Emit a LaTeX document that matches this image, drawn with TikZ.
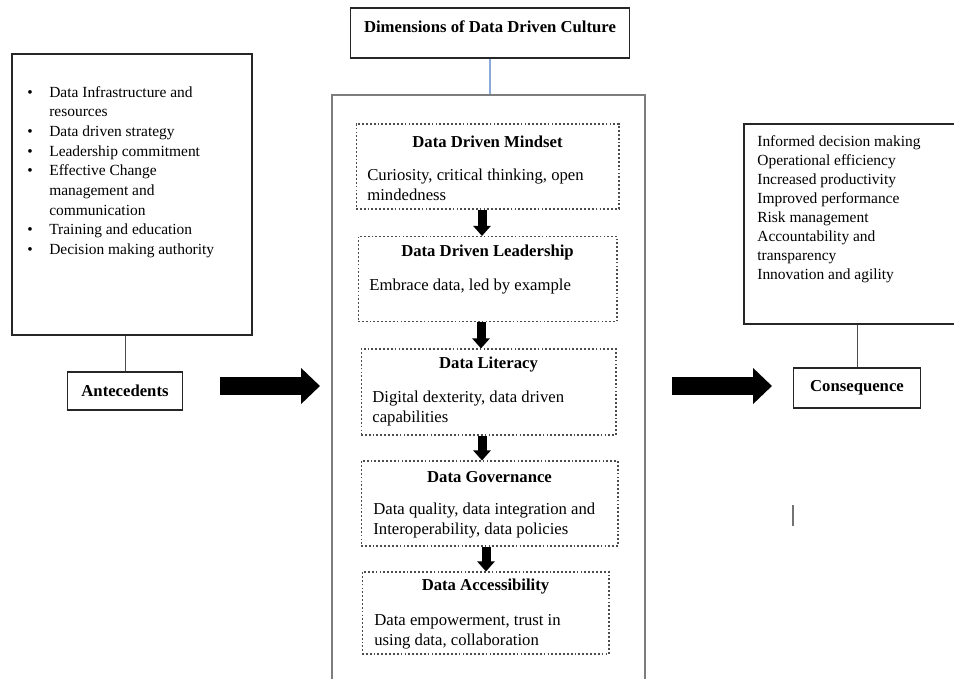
\documentclass[tikz,border=0pt]{standalone}
\usepackage{fontspec}
\setmainfont{Liberation Serif}
\usetikzlibrary{arrows.meta}
\definecolor{framegray}{RGB}{125,125,125}
\definecolor{linkblue}{RGB}{140,170,215}
\newcommand{\bul}{\makebox[12.5pt][l]{\textbullet}}
\newcommand{\hang}{\hspace*{12.5pt}}

\tikzset{
  plainbox/.style={draw=black!85, line width=0.8pt, inner sep=0pt},
  dotbox/.style={draw=black!70, dash pattern=on 1pt off 1.2pt, line width=0.6pt, inner sep=0pt},
  blockarrow/.style={line width=0.36cm, -{Triangle[length=0.38cm,width=0.7cm]}},
  downarrow/.style={line width=0.18cm, -{Triangle[length=0.2cm,width=0.34cm]}},
  sidetext/.style={font=\fontsize{8.8}{11.2}\selectfont, align=left, inner sep=0pt, anchor=north west},
  bodytext/.style={font=\fontsize{9.5}{11.5}\selectfont, align=left, inner sep=0pt, anchor=north west},
  titletext/.style={font=\fontsize{9.5}{11.5}\selectfont\bfseries, inner sep=0pt},
}

\begin{document}
\begin{tikzpicture}[x=0.02cm, y=-0.02cm]
  \useasboundingbox (0,0) rectangle (954,679);
  \clip (0,0) rectangle (954,679);
  % Antecedents side
  \node[plainbox, minimum width=4.8cm, minimum height=5.62cm] (lbox) at (132,194.5) {};
  \node[sidetext] (llist) at (27,83) {\strut\bul Data Infrastructure and\\
    \hang resources\\
    \bul Data driven strategy\\
    \bul Leadership commitment\\
    \bul Effective Change\\
    \hang management and\\
    \hang communication\\
    \bul Training and education\\
    \bul Decision making authority};
  \node[plainbox, minimum width=2.3cm, minimum height=0.76cm, titletext] (ante) at (125,391) {Antecedents};
  \draw[black!70, line width=0.5pt] (ante.north) -- (ante.north |- lbox.south);
  % Dimensions in the middle
  \node[plainbox, minimum width=5.58cm, minimum height=1.0cm] (dim) at (490,33) {};
  \node[titletext] (dimtitle) at (490,27) {Dimensions of Data Driven Culture};
  \node[draw=framegray, line width=1pt, minimum width=6.26cm, minimum height=12cm] (main) at (488.5,395) {};
  \draw[linkblue, line width=0.6pt] (dim.south) -- (dim.south |- main.north);
  \node[dotbox, minimum width=5.26cm, minimum height=1.7cm] (mind) at (487.5,166.5) {};
  \node[titletext] (mindtitle) at (487.5,142) {Data Driven Mindset};
  \node[bodytext] (mindbody) at (367,166) {\strut Curiosity, critical thinking, open\\mindedness};
  \node[dotbox, minimum width=5.18cm, minimum height=1.7cm] (lead) at (487.5,279) {};
  \node[titletext] (leadtitle) at (487.5,252) {Data Driven Leadership};
  \node[bodytext] (leadbody) at (369,276) {\strut Embrace data, led by example};
  \node[dotbox, minimum width=5.1cm, minimum height=1.72cm] (lit) at (488.5,392) {};
  \node[titletext] (littitle) at (488.5,365) {Data Literacy};
  \node[bodytext] (litbody) at (372,388) {\strut Digital dexterity, data driven\\capabilities};
  \node[dotbox, minimum width=5.14cm, minimum height=1.7cm] (gov) at (489.5,503.5) {};
  \node[titletext] (govtitle) at (489.5,477) {Data Governance};
  \node[bodytext] (govbody) at (373,500) {\strut Data quality, data integration and\\Interoperability, data policies};
  \node[dotbox, minimum width=4.94cm, minimum height=1.64cm] (acc) at (485.5,613) {};
  \node[titletext] (acctitle) at (485.5,587) {Data Accessibility};
  \node[bodytext] (accbody) at (374,611) {\strut Data empowerment, trust in\\using data, collaboration};
  \foreach \a/\b/\x in {mind/lead/482, lead/lit/481, lit/gov/482, gov/acc/486} {
    \coordinate (ax) at (\x,0);
    \draw[downarrow] (\a.south -| ax) -- (\b.north -| ax);
  }
  % Consequence side
  \node[plainbox, minimum width=4.32cm, minimum height=4.0cm] (rbox) at (852,224) {};
  \node[sidetext, font=\fontsize{8.8}{10.8}\selectfont] (rlist) at (757,133) {\strut Informed decision making\\
    Operational efficiency\\
    Increased productivity\\
    Improved performance\\
    Risk management\\
    Accountability and\\
    transparency\\
    Innovation and agility};
  \node[plainbox, minimum width=2.54cm, minimum height=0.8cm, titletext] (cons) at (857,388) {Consequence};
  \draw[black!70, line width=0.5pt] (cons.north) -- (cons.north |- rbox.south);
  % Big arrows
  \coordinate (la1) at (220,386);
  \coordinate (la2) at (320,386);
  \coordinate (ra1) at (672,386);
  \coordinate (ra2) at (772,386);
  \draw[blockarrow] (la1) -- (la2);
  \draw[blockarrow] (ra1) -- (ra2);
  \draw[black!55, line width=1pt] (793,505) -- (793,526);
\end{tikzpicture}
\end{document}
